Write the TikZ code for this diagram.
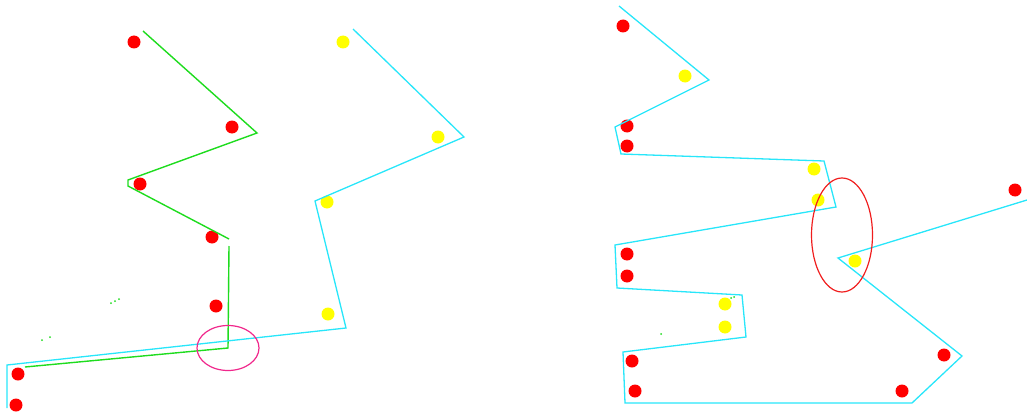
\documentclass[tikz,border=0pt]{standalone}
\usetikzlibrary{shapes.geometric}
\definecolor{dotred}{RGB}{255,0,0}
\definecolor{dotyel}{RGB}{255,255,0}
\definecolor{lgreen}{RGB}{30,220,30}
\definecolor{lcyan}{RGB}{40,230,250}
\definecolor{epink}{RGB}{240,40,140}
\definecolor{ered}{RGB}{240,30,30}
\begin{document}
\begin{tikzpicture}[x=1pt,y=-1pt,
  rdot/.style={circle,fill=dotred,inner sep=0pt,minimum size=13pt},
  ydot/.style={circle,fill=dotyel,inner sep=0pt,minimum size=13pt},
  gdot/.style={circle,fill=lgreen,inner sep=0pt,minimum size=2pt},
  gline/.style={draw=lgreen,line width=1.4pt,line join=miter},
  cline/.style={draw=lcyan,line width=1.3pt,line join=miter},
  pell/.style={draw=epink,line width=1.2pt},
  rell/.style={draw=ered,line width=1.2pt}]
\useasboundingbox (0,0) rectangle (1027,412);
% ---------- left panel ----------
\node[rdot] (l1) at (134,42) {};
\node[rdot] (l2) at (232,127) {};
\node[rdot] (l3) at (140,184) {};
\node[rdot] (l4) at (212,237) {};
\node[rdot] (l5) at (216,306) {};
\node[rdot] (l6) at (18,374) {};
\node[rdot] (l7) at (16,405) {};
\node[ydot] (ly1) at (343,42) {};
\node[ydot] (ly2) at (438,137) {};
\node[ydot] (ly3) at (327,202) {};
\node[ydot] (ly4) at (328,314) {};
\node[gdot] (lg1) at (111,303) {};
\node[gdot] (lg2) at (115,301) {};
\node[gdot] (lg3) at (119,299) {};
\node[gdot] (lg4) at (42,340) {};
\node[gdot] (lg5) at (50,337) {};
% green path
\coordinate (ga) at (143,31);
\coordinate (gb) at (257,133);
\coordinate (gc) at (128,180);
\coordinate (gd) at (128,186);
\coordinate (ge) at (229,239);
\coordinate (gf) at (229,246);
\coordinate (gg) at (228,348);
\coordinate (gh) at (25,367);
\draw[gline] (ga) -- (gb) -- (gc) -- (gd) -- (ge);
\draw[gline] (gf) -- (gg) -- (gh);
% cyan path
\coordinate (ca) at (353,29);
\coordinate (cb) at (464,137);
\coordinate (cc) at (315,201);
\coordinate (cd) at (346,328);
\coordinate (ce) at (7,365);
\coordinate (cf) at (7,408);
\draw[cline] (ca) -- (cb) -- (cc) -- (cd) -- (ce) -- (cf);
\node[pell,ellipse,minimum width=62pt,minimum height=45pt,inner sep=0pt] (le) at (228,348) {};
% ---------- right panel ----------
\node[rdot] (r1) at (623,26) {};
\node[rdot] (r2) at (627,126) {};
\node[rdot] (r3) at (627,146) {};
\node[rdot] (r4) at (627,254) {};
\node[rdot] (r5) at (627,276) {};
\node[rdot] (r6) at (632,361) {};
\node[rdot] (r7) at (635,391) {};
\node[rdot] (r8) at (902,391) {};
\node[rdot] (r9) at (944,355) {};
\node[rdot] (r10) at (1015,190) {};
\node[ydot] (ry1) at (685,76) {};
\node[ydot] (ry2) at (814,169) {};
\node[ydot] (ry3) at (818,200) {};
\node[ydot] (ry4) at (725,304) {};
\node[ydot] (ry5) at (725,327) {};
\node[ydot] (ry6) at (855,261) {};
\node[gdot] (rg1) at (731,298) {};
\node[gdot] (rg2) at (734,297) {};
\node[gdot] (rg3) at (661,334) {};
\coordinate (d1) at (619,6);
\coordinate (d2) at (709,80);
\coordinate (d3) at (615,127);
\coordinate (d4) at (621,154);
\coordinate (d5) at (824,161);
\coordinate (d6) at (836,207);
\coordinate (d7) at (615,245);
\coordinate (d8) at (617,288);
\coordinate (d9) at (742,295);
\coordinate (d10) at (746,337);
\coordinate (d11) at (623,352);
\coordinate (d12) at (625,403);
\coordinate (d13) at (912,403);
\coordinate (d14) at (962,356);
\coordinate (d15) at (838,258);
\coordinate (d16) at (1027,200);
\draw[cline] (d1) -- (d2) -- (d3) -- (d4) -- (d5) -- (d6) -- (d7) -- (d8) -- (d9) -- (d10) -- (d11) -- (d12) -- (d13) -- (d14) -- (d15) -- (d16);
\node[rell,ellipse,minimum width=61pt,minimum height=114pt,inner sep=0pt] (re) at (842,235) {};
\end{tikzpicture}
\end{document}
